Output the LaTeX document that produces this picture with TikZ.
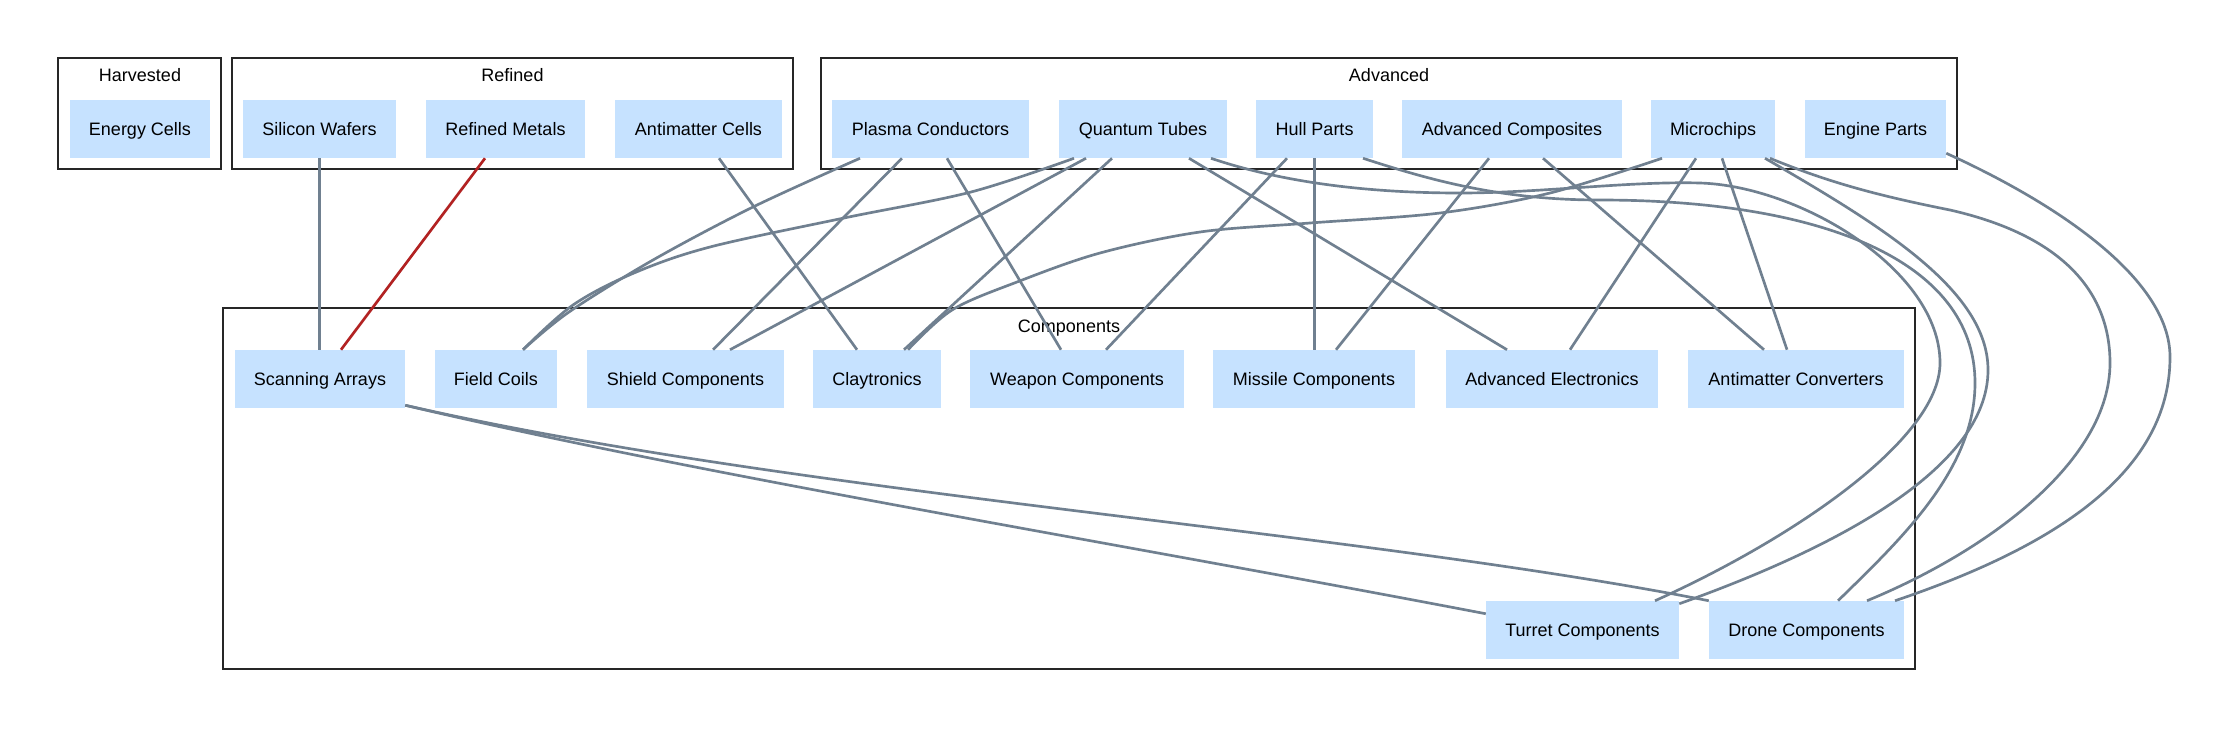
\documentclass[tikz,border=0pt]{standalone}
\usepackage{fontspec}
\setmainfont{Liberation Sans}
\usetikzlibrary{calc}
\definecolor{nodefill}{HTML}{C6E2FF}
\definecolor{edgecol}{HTML}{708090}
\definecolor{redcol}{HTML}{B22222}
\begin{document}
\begin{tikzpicture}[x=0.75pt,y=-0.75pt,
  font=\fontsize{13.5}{16}\selectfont,
  box/.style={fill=nodefill, draw=none, inner sep=0pt, minimum height=43.5pt, minimum width={#1*0.75pt}, text=black, text height=9.7pt, text depth=0pt},
  cluster/.style={draw=black!85, line width=0.9pt},
  ctitle/.style={inner sep=0pt, text=black, text height=9.7pt, text depth=0pt},
  edge/.style={draw=edgecol, line width=2pt},
  hot/.style={draw=redcol, line width=2pt},
  sm/.style={smooth, tension=0.55}]
\useasboundingbox (0,0) rectangle (2220,729);
\fill[white] (0,0) rectangle (2220,729);

% clusters
\draw[cluster] (58,58) rectangle (221,169);
\node[ctitle] (tharv) at (140,75) {Harvested};
\draw[cluster] (232,58) rectangle (793,169);
\node[ctitle] (tref) at (512.5,75) {Refined};
\draw[cluster] (821,58) rectangle (1957,169);
\node[ctitle] (tadv) at (1389,75) {Advanced};
\draw[cluster] (223,308) rectangle (1915,669);
\node[ctitle] (tcomp) at (1069,326) {Components};

% top row nodes
\node[box=140] (energy)  at (140,129)    {Energy Cells};
\node[box=153] (silicon) at (319.5,129)  {Silicon Wafers};
\node[box=159] (metals)  at (505.5,129)  {Refined Metals};
\node[box=167] (amcells) at (698.5,129)  {Antimatter Cells};
\node[box=197] (plasma)  at (930.5,129)  {Plasma Conductors};
\node[box=168] (quantum) at (1143,129)   {Quantum Tubes};
\node[box=117] (hull)    at (1314.5,129) {Hull Parts};
\node[box=220] (advcomp) at (1512,129)   {Advanced Composites};
\node[box=124] (micro)   at (1713,129)   {Microchips};
\node[box=141] (engine)  at (1875.5,129) {Engine Parts};

% components
\node[box=170] (scanning) at (320,379)    {Scanning Arrays};
\node[box=122] (field)    at (496,379)    {Field Coils};
\node[box=197] (shield)   at (685.5,379)  {Shield Components};
\node[box=128] (clay)     at (877,379)    {Claytronics};
\node[box=214] (weapon)   at (1077,379)   {Weapon Components};
\node[box=202] (missile)  at (1314,379)   {Missile Components};
\node[box=212] (advelec)  at (1552,379)   {Advanced Electronics};
\node[box=216] (amconv)   at (1796,379)   {Antimatter Converters};
\node[box=193] (turret)   at (1582.5,630) {Turret Components};
\node[box=195] (drone)    at (1806.5,630) {Drone Components};

% straight edges
\draw[edge] (silicon.south) -- (silicon.south |- scanning.north);
\draw[hot]  ($(metals.south)+(-20.5,0)$) -- ($(scanning.north)+(21,0)$);
\draw[edge] ($(amcells.south)+(20.5,0)$) -- ($(clay.north)+(-20,0)$);
\draw[edge] ($(plasma.south)+(-28.5,0)$) -- ($(shield.north)+(27.5,0)$);
\draw[edge] ($(plasma.south)+(16.5,0)$) -- ($(weapon.north)+(-16,0)$);
\draw[edge] ($(quantum.south)+(-57,0)$) -- ($(shield.north)+(44.5,0)$);
\draw[edge] ($(quantum.south)+(-31,0)$) -- ($(clay.north)+(27,0)$);
\draw[edge] ($(quantum.south)+(46,0)$) -- ($(advelec.north)+(-45,0)$);
\draw[edge] ($(hull.south)+(-27.5,0)$) -- ($(weapon.north)+(29,0)$);
\draw[edge] (hull.south) -- (hull.south |- missile.north);
\draw[edge] ($(advcomp.south)+(-23,0)$) -- ($(missile.north)+(22,0)$);
\draw[edge] ($(advcomp.south)+(31,0)$) -- ($(amconv.north)+(-32,0)$);
\draw[edge] ($(micro.south)+(-17,0)$) -- ($(advelec.north)+(18,0)$);
\draw[edge] ($(micro.south)+(9,0)$) -- ($(amconv.north)+(-9,0)$);

% curved edges
\coordinate (c4a) at ($(plasma.south)+(-70.5,0)$);
\coordinate (c4b) at ($(field.north)+(27,0)$);
\draw[edge] plot[sm] coordinates {(c4a) (753,207) (653,260) (569,312) (c4b)};

\coordinate (c7a) at ($(quantum.south)+(-69,0)$);
\draw[edge] plot[sm] coordinates {(c7a) (971,192) (844,218) (710,247) (634,273) (573,305) (c4b)};

\coordinate (c17a) at ($(micro.south)+(-51,0)$);
\coordinate (c17b) at ($(clay.north)+(31,0)$);
\draw[edge] plot[sm] coordinates {(c17a) (1550,193) (1440,213) (1310,223) (1200,232) (1100,253) (1017,282) (952,310) (c17b)};

% Quantum Tubes -- Turret Components
\coordinate (c11a) at ($(quantum.south)+(68,0)$);
\coordinate (c11b) at ($(turret.north)+(72.5,0)$);
\draw[edge] (c11a) .. controls (1290,185) and (1380,193) .. (1460,193)
  .. controls (1540,193) and (1630,181) .. (1700,183)
  .. controls (1800,186) and (1940,270) .. (1940,363)
  .. controls (1940,440) and (1790,540) .. (c11b);

% Hull Parts -- Drone Components
\coordinate (c14a) at ($(hull.south)+(48.5,0)$);
\coordinate (c14b) at ($(drone.north)+(31.5,0)$);
\draw[edge] (c14a) .. controls (1430,180) and (1500,200) .. (1600,200)
  .. controls (1820,200) and (1975,260) .. (1975,383)
  .. controls (1975,470) and (1900,540) .. (c14b);

% Microchips -- Turret Components
\coordinate (c20a) at ($(micro.south)+(52,0)$);
\coordinate (c20b) at ($(turret.north east)+(0,3)$);
\draw[edge] (c20a) .. controls (1880,225) and (1988,290) .. (1988,370)
  .. controls (1988,470) and (1830,550) .. (c20b);

% Microchips -- Drone Components
\coordinate (c21a) at ($(micro.south)+(57,0)$);
\coordinate (c21b) at ($(drone.north)+(60.5,0)$);
\draw[edge] (c21a) .. controls (1830,183) and (1880,196) .. (1950,210)
  .. controls (2060,235) and (2110,290) .. (2110,363)
  .. controls (2110,460) and (1990,550) .. (c21b);

% Engine Parts -- Drone Components
\coordinate (c22a) at ($(engine.south east)+(0,-5)$);
\coordinate (c22b) at ($(drone.north)+(88.5,0)$);
\draw[edge] (c22a) .. controls (2060,205) and (2170,280) .. (2170,357)
  .. controls (2170,470) and (2060,545) .. (c22b);

% Scanning Arrays -- Turret / Drone
\coordinate (c23a) at ($(scanning.south east)+(0,-3)$);
\coordinate (c23b) at ($(turret.north west)+(0,13)$);
\draw[edge] (c23a) .. controls (700,475) and (1100,540) .. (c23b);
\draw[edge] (c23a) .. controls (800,495) and (1350,530) .. (drone.north west);
\end{tikzpicture}
\end{document}
